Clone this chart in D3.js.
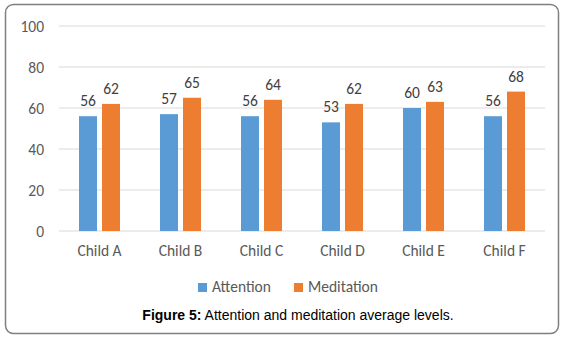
<!DOCTYPE html>
<html><head><meta charset="utf-8">
<script src="https://cdn.jsdelivr.net/npm/d3@7"></script>
<style>body{margin:0;background:#fff}svg{display:block}</style>
</head><body>
<svg id="c" width="563" height="337"></svg>
<script>
const categories = ["Child A","Child B","Child C","Child D","Child E","Child F"];
const seriesNames = ["Attention","Meditation"];
const attention = [56,57,56,53,60,56];
const meditation = [62,65,64,62,63,68];
const yTicks = [0,20,40,60,80,100];
const colors = ["#5B9BD5","#ED7D31"];

const svg = d3.select("#c");
const font = "Carlito, Lato, 'Open Sans', sans-serif";
const fs = 15.5;

svg.append("rect").attr("x",5.5).attr("y",4.5).attr("width",553).attr("height",329)
  .attr("rx",8).attr("fill","#fff").attr("stroke","#7f7f7f").attr("stroke-width",1.5);

const x0 = d3.scaleBand().domain(categories).range([59,545]);
const x1 = d3.scaleBand().domain(seriesNames).range([20,61]).paddingInner(5/23).paddingOuter(0);
const y = d3.scaleLinear().domain([0,100]).range([231,26]);

const g = svg.append("g");
g.selectAll("line.grid").data(yTicks).join("line")
  .attr("x1",59).attr("x2",545).attr("y1",d=>y(d)).attr("y2",d=>y(d))
  .attr("stroke","#d9d9d9").attr("stroke-width",1);

const yAxis = d3.axisLeft(y).tickValues(yTicks).tickSize(0).tickPadding(0);
const ya = svg.append("g").attr("transform","translate(44,0)").call(yAxis);
ya.select(".domain").remove();
ya.selectAll("text").attr("font-family",font).attr("font-size",fs).attr("fill","#595959").attr("dy","0.35em");

const xAxis = d3.axisBottom(x0).tickSize(0).tickPadding(0);
const xa = svg.append("g").attr("transform","translate(0,245)").call(xAxis);
xa.select(".domain").remove();
xa.selectAll("text").attr("font-family",font).attr("font-size",fs).attr("fill","#595959").attr("dy","0.71em");

const data = categories.map((c,i)=>({c, vals:[{s:"Attention",v:attention[i]},{s:"Meditation",v:meditation[i]}]}));
const grp = g.selectAll("g.cat").data(data).join("g").attr("transform",d=>`translate(${x0(d.c)},0)`);
grp.selectAll("rect").data(d=>d.vals).join("rect")
  .attr("x",d=>x1(d.s)).attr("width",x1.bandwidth())
  .attr("y",d=>y(d.v)).attr("height",d=>y(0)-y(d.v))
  .attr("fill",(d,i)=>colors[i]);
grp.selectAll("text").data(d=>d.vals).join("text")
  .attr("x",d=>x1(d.s)+x1.bandwidth()/2).attr("y",d=>y(d.v)-10)
  .attr("text-anchor","middle").attr("font-family",font).attr("font-size",fs).attr("fill","#404040")
  .text(d=>d.v);

const leg = svg.append("g");
const legX = [198,294];
seriesNames.forEach((s,i)=>{
  leg.append("rect").attr("x",legX[i]).attr("y",283).attr("width",9).attr("height",9).attr("fill",colors[i]);
  leg.append("text").attr("x",legX[i]+14).attr("y",292).attr("font-family",font).attr("font-size",fs)
    .attr("fill","#595959").text(s);
});

const cap = svg.append("text").attr("x",298).attr("y",320).attr("text-anchor","middle")
  .attr("font-family","'Liberation Sans', Arial, sans-serif").attr("font-size",14).attr("fill","#000");
cap.append("tspan").attr("font-weight","bold").text("Figure 5:");
cap.append("tspan").text(" Attention and meditation average levels.");
</script>
</body></html>
